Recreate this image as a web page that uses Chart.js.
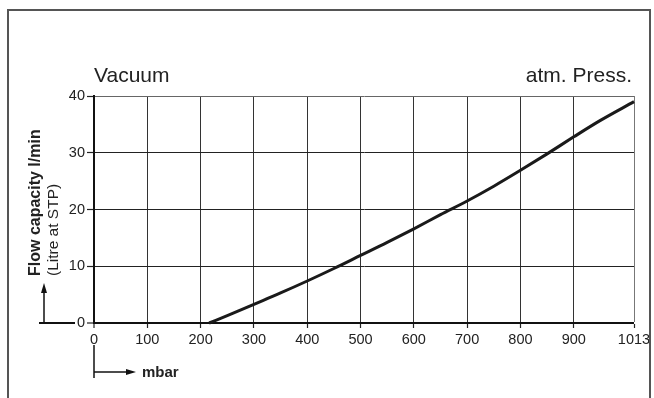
<!DOCTYPE html>
<html>
<head>
<meta charset="utf-8">
<script src="https://cdn.jsdelivr.net/npm/chart.js@4.4.0/dist/chart.umd.min.js"></script>
<style>
  html, body { margin: 0; padding: 0; background: #fff; }
  #wrap { width: 654px; height: 398px; }
</style>
</head>
<body>
<div id="wrap"><canvas id="flowChart"></canvas></div>
<script>
"use strict";

// flow capacity curve (pressure in mbar, flow in l/min)
const pressure = [216, 250, 300, 350, 400, 450, 500, 550, 600, 650, 700, 750, 800, 850, 900, 950, 1013];
const flow = [0, 1.3, 3.3, 5.3, 7.4, 9.6, 11.9, 14.2, 16.6, 19.1, 21.5, 24.1, 26.9, 29.8, 32.8, 35.7, 39.0];

const xTicks = [0, 100, 200, 300, 400, 500, 600, 700, 800, 900, 1013];
const yTicks = [0, 10, 20, 30, 40];

const tickFont = { family: "'Liberation Sans Narrow', 'Liberation Sans', sans-serif", size: 14.5 };
const ink = "#222";

var drawArrow = function (ctx, x1, y1, x2, y2) {
  var ang = Math.atan2(y2 - y1, x2 - x1);
  var len = 10, half = 3;
  ctx.beginPath();
  ctx.moveTo(x1, y1);
  ctx.lineTo(x2 - Math.cos(ang) * len, y2 - Math.sin(ang) * len);
  ctx.stroke();
  ctx.beginPath();
  ctx.moveTo(x2, y2);
  ctx.lineTo(x2 - Math.cos(ang) * len - Math.sin(ang) * half, y2 - Math.sin(ang) * len + Math.cos(ang) * half);
  ctx.lineTo(x2 - Math.cos(ang) * len + Math.sin(ang) * half, y2 - Math.sin(ang) * len - Math.cos(ang) * half);
  ctx.closePath();
  ctx.fill();
};

// frame, headings, axis titles and arrows
const decorations = {
  id: "decorations",
  afterDraw(chart) {
    const ctx = chart.ctx;
    const a = chart.chartArea;
    ctx.save();

    // outer frame (open at the bottom)
    ctx.strokeStyle = "#555";
    ctx.lineWidth = 2;
    ctx.beginPath();
    ctx.moveTo(8, 398);
    ctx.lineTo(8, 10);
    ctx.lineTo(650, 10);
    ctx.lineTo(650, 398);
    ctx.stroke();

    // headings
    ctx.fillStyle = ink;
    ctx.font = "21px 'Liberation Sans', sans-serif";
    ctx.textBaseline = "alphabetic";
    ctx.textAlign = "left";
    ctx.fillText("Vacuum", a.left, 82);
    ctx.textAlign = "right";
    ctx.fillText("atm. Press.", a.right - 2, 82);

    // y title
    ctx.save();
    ctx.translate(40, 276);
    ctx.rotate(-Math.PI / 2);
    ctx.textAlign = "left";
    ctx.font = "bold 16px 'Liberation Sans', sans-serif";
    ctx.fillText("Flow capacity l/min", 0, 0);
    ctx.restore();
    ctx.save();
    ctx.translate(58, 276);
    ctx.rotate(-Math.PI / 2);
    ctx.textAlign = "left";
    ctx.font = "15.5px 'Liberation Sans', sans-serif";
    ctx.fillText("(Litre at STP)", 0, 0);
    ctx.restore();

    // zero line extension and arrows
    ctx.strokeStyle = "#111";
    ctx.fillStyle = "#111";
    ctx.lineWidth = 2;
    ctx.beginPath();
    ctx.moveTo(39, a.bottom);
    ctx.lineTo(75, a.bottom);
    ctx.stroke();
    ctx.lineWidth = 1.5;
    drawArrow(ctx, 44, a.bottom - 1, 44, 283);

    ctx.beginPath();
    ctx.moveTo(a.left, 345);
    ctx.lineTo(a.left, 378);
    ctx.stroke();
    drawArrow(ctx, a.left, 372, 136, 372);

    ctx.fillStyle = ink;
    ctx.textAlign = "left";
    ctx.font = "bold 15px 'Liberation Sans', sans-serif";
    ctx.fillText("mbar", 142, 377);

    ctx.restore();
  }
};

const el = document.getElementById("flowChart");

new Chart(el, {
  type: "scatter",
  data: {
    datasets: [{
      label: "Flow capacity",
      data: pressure.map(function (p, i) { return { x: p, y: flow[i] }; }),
      showLine: true,
      borderColor: "#1a1a1a",
      borderWidth: 3,
      pointRadius: 0,
      cubicInterpolationMode: "monotone",
      clip: false
    }]
  },
  options: {
    responsive: true,
    maintainAspectRatio: false,
    animation: false,
    layout: { padding: { left: 64, right: 20, top: 96, bottom: 45 } },
    plugins: {
      legend: { display: false },
      tooltip: { enabled: false }
    },
    scales: {
      x: {
        type: "linear",
        min: 0,
        max: 1013,
        afterBuildTicks: function (scale) {
          scale.ticks = xTicks.map(function (v) { return { value: v }; });
        },
        afterFit: function (scale) { scale.height = 30; },
        border: { display: true, width: 2, color: "#111" },
        grid: {
          color: function (c) { return c.tick && c.tick.value === 1013 ? "#777" : "#333"; },
          lineWidth: function (c) { return c.tick && c.tick.value === 0 ? 0 : 1; },
          tickLength: 5,
          tickWidth: 1.2,
          tickColor: "#222"
        },
        ticks: {
          font: tickFont,
          color: ink,
          padding: 3,
          maxRotation: 0,
          autoSkip: false,
          callback: function (v) { return String(v); }
        }
      },
      y: {
        min: 0,
        max: 40,
        afterBuildTicks: function (scale) {
          scale.ticks = yTicks.map(function (v) { return { value: v }; });
        },
        afterFit: function (scale) { scale.width = 30; },
        border: { display: true, width: 2, color: "#111" },
        grid: {
          color: function (c) { return c.tick && c.tick.value === 40 ? "#666" : "#222"; },
          lineWidth: function (c) { return c.tick && c.tick.value === 0 ? 0 : 1; },
          tickLength: 7,
          tickWidth: 1.2,
          tickColor: "#222"
        },
        ticks: {
          font: tickFont,
          color: ink,
          padding: 2,
          callback: function (v) { return String(v); }
        }
      }
    }
  },
  plugins: [decorations]
});
</script>
</body>
</html>
